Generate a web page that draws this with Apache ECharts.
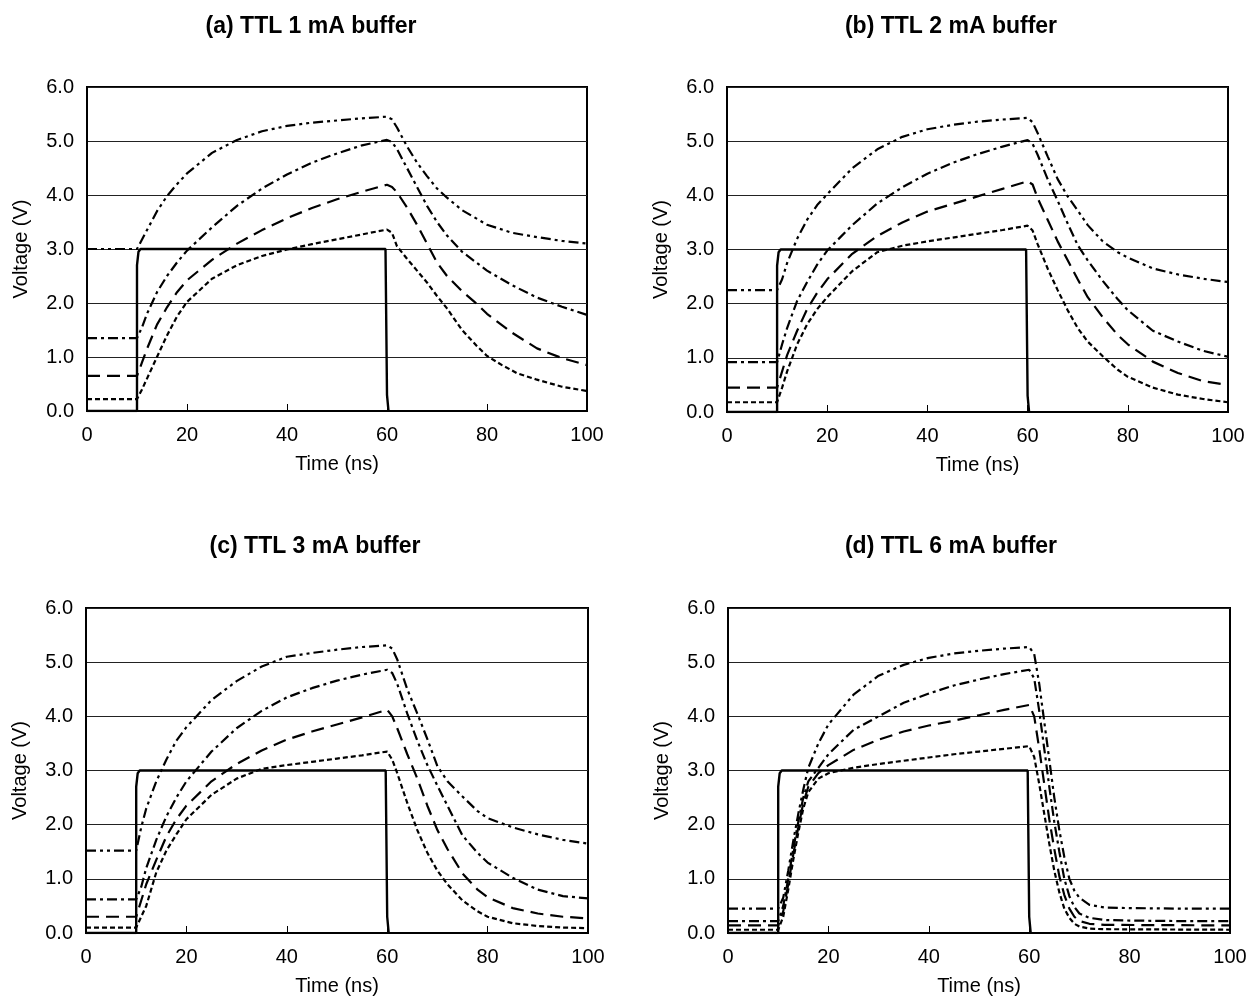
<!DOCTYPE html>
<html>
<head>
<meta charset="utf-8">
<script src="https://cdn.jsdelivr.net/npm/echarts@6/dist/echarts.min.js"></script>
<style>
  html, body { margin: 0; padding: 0; background: #fff; }
  #main { width: 1254px; height: 1002px; }
</style>
</head>
<body>
<div id="main"></div>
<script>
var titles = ['(a) TTL 1 mA buffer', '(b) TTL 2 mA buffer', '(c) TTL 3 mA buffer', '(d) TTL 6 mA buffer'];

// input pulse, same in every panel
var pulse = [[0, 0], [10, 0], [10, 2.7], [10.3, 2.95], [10.7, 3.0], [59.7, 3.0], [60.0, 0.3], [60.3, 0]];

// (a) 1 mA
var aDashDotDot = [[0, 3.0], [10, 3.0], [12, 3.35], [14, 3.7], [16, 3.98], [18, 4.2], [20, 4.4], [25, 4.78], [30, 5.02], [35, 5.18], [40, 5.28], [45, 5.34], [50, 5.38], [55, 5.42], [60, 5.45],
  [61, 5.4], [62, 5.25], [64, 4.9], [66, 4.6], [68, 4.35], [70, 4.12], [72, 3.95], [75, 3.72], [80, 3.45], [85, 3.3], [90, 3.22], [95, 3.15], [100, 3.1]];
var aDashDot = [[0, 1.35], [10, 1.35], [11, 1.55], [12, 1.8], [13, 2.0], [14, 2.2], [16, 2.5], [18, 2.75], [20, 2.97], [25, 3.4], [30, 3.8], [35, 4.12], [40, 4.38], [45, 4.6], [50, 4.77], [55, 4.92], [60, 5.02],
  [61, 4.98], [62, 4.85], [64, 4.5], [66, 4.15], [68, 3.8], [70, 3.5], [72, 3.25], [75, 2.95], [80, 2.6], [85, 2.33], [90, 2.1], [95, 1.93], [100, 1.78]];
var aDash = [[0, 0.65], [10, 0.65], [11, 0.9], [12, 1.15], [14, 1.6], [16, 1.92], [18, 2.2], [20, 2.42], [25, 2.8], [30, 3.1], [35, 3.35], [40, 3.57], [45, 3.76], [50, 3.92], [55, 4.06], [60, 4.19],
  [61, 4.15], [62, 4.05], [64, 3.77], [66, 3.45], [68, 3.1], [70, 2.75], [72, 2.5], [75, 2.22], [78, 1.98], [80, 1.8], [85, 1.45], [90, 1.16], [95, 0.98], [100, 0.85]];
var aDot = [[0, 0.22], [10, 0.22], [11, 0.4], [12, 0.6], [14, 1.0], [16, 1.4], [18, 1.75], [20, 2.02], [25, 2.45], [30, 2.7], [35, 2.87], [40, 2.99], [45, 3.09], [50, 3.18], [55, 3.27], [60, 3.36],
  [61, 3.3], [62, 3.05], [64, 2.82], [66, 2.6], [68, 2.38], [70, 2.13], [72, 1.9], [75, 1.5], [78, 1.2], [80, 1.02], [83, 0.85], [86, 0.7], [90, 0.58], [95, 0.45], [100, 0.37]];

// (b) 2 mA
var bDashDotDot = [[0, 2.25], [10, 2.25], [11, 2.45], [12, 2.75], [14, 3.2], [16, 3.55], [18, 3.82], [20, 4.02], [25, 4.5], [30, 4.85], [35, 5.08], [40, 5.22], [45, 5.3], [50, 5.36], [55, 5.4], [60, 5.43],
  [61, 5.35], [62, 5.15], [64, 4.72], [66, 4.3], [68, 3.98], [70, 3.72], [72, 3.45], [75, 3.15], [78, 2.95], [80, 2.85], [85, 2.65], [90, 2.54], [95, 2.46], [100, 2.4]];
var bDashDot = [[0, 0.92], [10, 0.92], [11, 1.25], [12, 1.55], [14, 2.05], [16, 2.4], [18, 2.72], [20, 2.98], [25, 3.45], [30, 3.85], [35, 4.15], [40, 4.4], [45, 4.6], [50, 4.76], [55, 4.9], [60, 5.02],
  [61, 4.95], [62, 4.75], [64, 4.3], [66, 3.9], [68, 3.48], [70, 3.08], [72, 2.8], [75, 2.42], [78, 2.08], [80, 1.88], [85, 1.5], [90, 1.3], [95, 1.13], [100, 1.02]];
var bDash = [[0, 0.45], [10, 0.45], [11, 0.75], [12, 1.05], [14, 1.5], [16, 1.9], [18, 2.2], [20, 2.45], [25, 2.92], [30, 3.25], [35, 3.5], [40, 3.7], [45, 3.84], [50, 3.98], [55, 4.12], [60, 4.26],
  [61, 4.2], [62, 3.95], [64, 3.55], [66, 3.15], [68, 2.8], [70, 2.45], [72, 2.12], [75, 1.75], [78, 1.42], [80, 1.25], [85, 0.93], [90, 0.72], [95, 0.57], [100, 0.5]];
var bDot = [[0, 0.18], [10, 0.18], [11, 0.45], [12, 0.75], [14, 1.25], [16, 1.62], [18, 1.9], [20, 2.12], [25, 2.6], [30, 2.95], [35, 3.07], [40, 3.15], [45, 3.22], [50, 3.29], [55, 3.36], [60, 3.44],
  [61, 3.35], [62, 3.1], [64, 2.65], [66, 2.25], [68, 1.88], [70, 1.55], [72, 1.3], [75, 1.03], [78, 0.78], [80, 0.65], [85, 0.45], [90, 0.32], [95, 0.24], [100, 0.18]];

// (c) 3 mA
var cDashDotDot = [[0, 1.52], [10, 1.52], [11, 1.95], [12, 2.3], [14, 2.8], [16, 3.2], [18, 3.55], [20, 3.8], [25, 4.3], [30, 4.65], [35, 4.92], [40, 5.1], [45, 5.17], [50, 5.23], [55, 5.28], [60, 5.31],
  [61, 5.25], [62, 5.05], [64, 4.5], [66, 4.05], [68, 3.58], [70, 3.08], [72, 2.8], [75, 2.52], [78, 2.25], [80, 2.12], [85, 1.95], [90, 1.82], [95, 1.72], [100, 1.65]];
var cDashDot = [[0, 0.62], [10, 0.62], [11, 0.85], [12, 1.2], [14, 1.72], [16, 2.15], [18, 2.5], [20, 2.8], [25, 3.35], [30, 3.78], [35, 4.1], [40, 4.35], [45, 4.52], [50, 4.66], [55, 4.77], [60, 4.86],
  [61, 4.8], [62, 4.6], [64, 4.05], [66, 3.55], [68, 3.1], [70, 2.72], [72, 2.35], [75, 1.8], [78, 1.48], [80, 1.3], [85, 1.02], [90, 0.8], [95, 0.68], [100, 0.64]];
var cDash = [[0, 0.3], [10, 0.3], [11, 0.6], [12, 0.9], [14, 1.35], [16, 1.78], [18, 2.1], [20, 2.35], [25, 2.8], [30, 3.12], [35, 3.37], [40, 3.57], [45, 3.72], [50, 3.85], [55, 3.98], [60, 4.12],
  [61, 4.0], [62, 3.78], [64, 3.3], [66, 2.85], [68, 2.35], [70, 1.9], [72, 1.55], [75, 1.1], [78, 0.8], [80, 0.66], [85, 0.46], [90, 0.36], [95, 0.3], [100, 0.27]];
var cDot = [[0, 0.1], [10, 0.1], [11, 0.3], [12, 0.5], [14, 1.12], [16, 1.52], [18, 1.82], [20, 2.1], [25, 2.55], [30, 2.85], [35, 3.03], [40, 3.1], [45, 3.16], [50, 3.22], [55, 3.28], [60, 3.35],
  [61, 3.2], [62, 2.95], [64, 2.4], [66, 1.9], [68, 1.48], [70, 1.15], [72, 0.9], [75, 0.6], [78, 0.4], [80, 0.3], [85, 0.18], [90, 0.13], [95, 0.1], [100, 0.09]];

// (d) 6 mA
var dDashDotDot = [[0, 0.45], [10, 0.45], [11, 0.65], [12, 1.15], [13, 1.7], [14, 2.2], [15, 2.65], [16, 3.05], [18, 3.5], [20, 3.85], [25, 4.4], [30, 4.75], [35, 4.95], [40, 5.08], [45, 5.16], [50, 5.21], [55, 5.25], [60, 5.28],
  [61, 5.15], [62, 4.6], [63, 3.9], [64, 3.2], [65, 2.5], [66, 1.9], [67, 1.4], [68, 1.0], [69, 0.78], [70, 0.65], [72, 0.52], [75, 0.47], [80, 0.46], [90, 0.45], [100, 0.45]];
var dDashDot = [[0, 0.22], [10, 0.22], [11, 0.5], [12, 1.0], [13, 1.55], [14, 2.05], [15, 2.5], [16, 2.8], [18, 3.05], [20, 3.3], [25, 3.75], [30, 4.0], [35, 4.25], [40, 4.42], [45, 4.57], [50, 4.68], [55, 4.78], [60, 4.86],
  [61, 4.7], [62, 4.1], [63, 3.4], [64, 2.7], [65, 2.05], [66, 1.5], [67, 1.0], [68, 0.68], [69, 0.48], [70, 0.36], [72, 0.28], [75, 0.24], [80, 0.23], [90, 0.22], [100, 0.22]];
var dDash = [[0, 0.14], [10, 0.14], [11, 0.4], [12, 0.9], [13, 1.45], [14, 1.95], [15, 2.4], [16, 2.7], [18, 2.95], [20, 3.1], [25, 3.38], [30, 3.57], [35, 3.72], [40, 3.83], [45, 3.92], [50, 4.02], [55, 4.12], [60, 4.21],
  [61, 4.0], [62, 3.4], [63, 2.75], [64, 2.1], [65, 1.55], [66, 1.05], [67, 0.7], [68, 0.45], [69, 0.3], [70, 0.22], [72, 0.17], [75, 0.15], [100, 0.14]];
var dDot = [[0, 0.06], [10, 0.06], [11, 0.3], [12, 0.8], [13, 1.35], [14, 1.85], [15, 2.3], [16, 2.6], [18, 2.85], [20, 2.95], [25, 3.05], [30, 3.12], [35, 3.18], [40, 3.24], [45, 3.3], [50, 3.35], [55, 3.4], [60, 3.45],
  [61, 3.25], [62, 2.75], [63, 2.2], [64, 1.65], [65, 1.15], [66, 0.75], [67, 0.45], [68, 0.28], [69, 0.17], [70, 0.12], [72, 0.08], [75, 0.07], [100, 0.06]];

var panels = [
  [aDashDotDot, aDashDot, aDash, aDot],
  [bDashDotDot, bDashDot, bDash, bDot],
  [cDashDotDot, cDashDot, cDash, cDot],
  [dDashDotDot, dDashDot, dDash, dDot]
];
var dashes = [[10, 4, 3, 4, 3, 4], [10, 4, 3, 4], [13, 7], [5, 3]];

var font = 'Liberation Sans, Arial, Helvetica, sans-serif';
var gridPos = [
  { left: 87, top: 87, width: 500, height: 324 },
  { left: 727, top: 87, width: 501, height: 325 },
  { left: 86, top: 608, width: 502, height: 325 },
  { left: 728, top: 608, width: 502, height: 325 }
];
var titlePos = [[306, 10], [946, 10], [310, 530], [946, 530]];

var chart = echarts.init(document.getElementById('main'));
var option = {
  animation: false,
  backgroundColor: '#fff',
  title: [],
  grid: [],
  xAxis: [],
  yAxis: [],
  series: []
};

for (var i = 0; i < 4; i++) {
  option.title.push({
    text: titles[i],
    left: titlePos[i][0],
    top: titlePos[i][1],
    textAlign: 'center',
    textStyle: { fontFamily: font, fontSize: 23, fontWeight: 'bold', color: '#000' }
  });
  option.grid.push({
    left: gridPos[i].left, top: gridPos[i].top, width: gridPos[i].width, height: gridPos[i].height,
    show: true, borderColor: '#000', borderWidth: 2, backgroundColor: 'transparent'
  });
  option.xAxis.push({
    type: 'value', gridIndex: i, min: 0, max: 100, interval: 20,
    name: 'Time (ns)', nameLocation: 'middle', nameGap: 43,
    nameTextStyle: { fontFamily: font, fontSize: 20, color: '#000' },
    axisLine: { lineStyle: { color: '#000', width: 2 } },
    axisTick: { inside: true, length: 7, lineStyle: { color: '#000', width: 1 } },
    axisLabel: { fontFamily: font, fontSize: 20, color: '#000', margin: 14 },
    splitLine: { show: false }
  });
  option.yAxis.push({
    type: 'value', gridIndex: i, min: 0, max: 6, interval: 1,
    name: 'Voltage (V)', nameLocation: 'middle', nameGap: 56,
    nameTextStyle: { fontFamily: font, fontSize: 20, color: '#000' },
    axisLine: { lineStyle: { color: '#000', width: 2 } },
    axisTick: { show: false },
    axisLabel: { fontFamily: font, fontSize: 20, color: '#000', margin: 13, formatter: function (v) { return v.toFixed(1); } },
    splitLine: { lineStyle: { color: '#222', width: 1 } }
  });
  for (var k = 0; k < 4; k++) {
    option.series.push({
      type: 'line', xAxisIndex: i, yAxisIndex: i,
      data: panels[i][k], symbol: 'none', smooth: false,
      lineStyle: { color: '#000', width: 2.2, type: dashes[k] },
      z: 3
    });
  }
  option.series.push({
    type: 'line', xAxisIndex: i, yAxisIndex: i,
    data: pulse, symbol: 'none',
    lineStyle: { color: '#000', width: 2.4, type: 'solid' },
    z: 4
  });
}

chart.setOption(option);
</script>
</body>
</html>
